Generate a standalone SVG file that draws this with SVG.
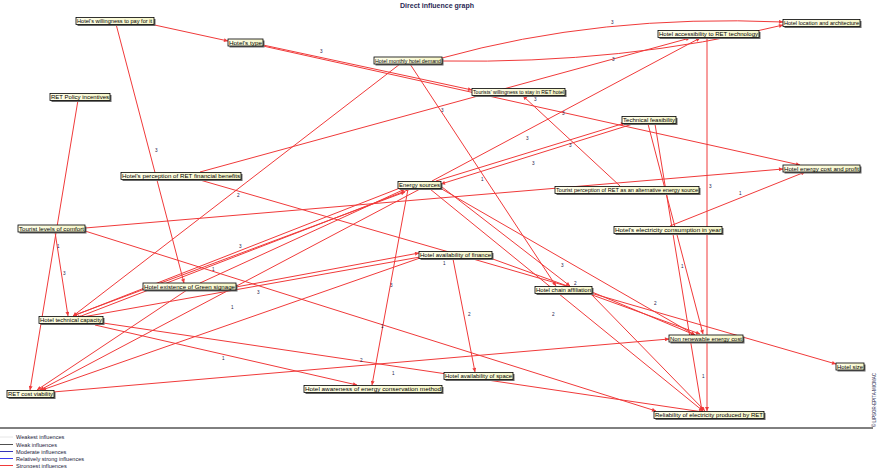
<svg xmlns="http://www.w3.org/2000/svg" width="877" height="468" viewBox="0 0 877 468">
<style>
.bg{fill:#ffffff}
.sh{fill:#6a6a6a}
.bx{fill:url(#gy);stroke:#000;stroke-width:0.8}
.nt{font-family:"Liberation Sans",Arial,sans-serif;font-size:5.8px;fill:#000}
.ed{fill:none;stroke:#f03a3a;stroke-width:1}
.lb{font-family:"Liberation Sans",Arial,sans-serif;font-size:4.6px;fill:#22224a}
.tt{font-family:"Liberation Sans",Arial,sans-serif;font-size:7px;font-weight:bold;fill:#2a2a55}
.lg{font-family:"Liberation Sans",Arial,sans-serif;font-size:5.6px;fill:#1a1a3a}
</style>
<defs>
<linearGradient id="gy" x1="0" y1="0" x2="1" y2="0">
<stop offset="0" stop-color="#ffffea"/>
<stop offset="1" stop-color="#f6f6c8"/>
</linearGradient>
<marker id="ar" viewBox="0 0 10 10" refX="10" refY="5" markerWidth="5" markerHeight="4" markerUnits="userSpaceOnUse" orient="auto">
<path d="M0,0 L10,5 L0,10 z" fill="#f03a3a"/>
</marker>
</defs>
<rect class="bg" x="0" y="0" width="877" height="468"/>
<text class="tt" x="437" y="8" text-anchor="middle">Direct influence graph</text>

<g id="connectors">
<line class="ed" x1="150" y1="24" x2="228" y2="41" marker-end="url(#ar)"/>
<line class="ed" x1="116" y1="24" x2="184" y2="283" marker-end="url(#ar)"/>
<line class="ed" x1="263" y1="45" x2="472" y2="90" marker-end="url(#ar)"/>
<line class="ed" x1="263" y1="46" x2="800" y2="165" marker-end="url(#ar)"/>
<path class="ed" d="M442,58 Q600,14 783,22" marker-end="url(#ar)"/>
<path class="ed" d="M442,61 Q625,64 783,25" marker-end="url(#ar)"/>
<line class="ed" x1="400" y1="64" x2="73" y2="316" marker-end="url(#ar)"/>
<line class="ed" x1="410" y1="64" x2="556" y2="286" marker-end="url(#ar)"/>
<line class="ed" x1="432" y1="181" x2="700" y2="38" marker-end="url(#ar)"/>
<line class="ed" x1="436" y1="181" x2="625" y2="123" marker-end="url(#ar)"/>
<line class="ed" x1="636" y1="123" x2="441" y2="184" marker-end="url(#ar)"/>
<line class="ed" x1="85" y1="228" x2="783" y2="169" marker-end="url(#ar)"/>
<line class="ed" x1="85" y1="231" x2="656" y2="411" marker-end="url(#ar)"/>
<line class="ed" x1="55" y1="232" x2="68" y2="316" marker-end="url(#ar)"/>
<line class="ed" x1="78" y1="100" x2="30" y2="390" marker-end="url(#ar)"/>
<line class="ed" x1="200" y1="172" x2="690" y2="38" marker-end="url(#ar)"/>
<line class="ed" x1="200" y1="180" x2="836" y2="364" marker-end="url(#ar)"/>
<line class="ed" x1="620" y1="186" x2="523" y2="96" marker-end="url(#ar)"/>
<line class="ed" x1="670" y1="226" x2="805" y2="172" marker-end="url(#ar)"/>
<line class="ed" x1="648" y1="124" x2="703" y2="334" marker-end="url(#ar)"/>
<line class="ed" x1="655" y1="124" x2="702" y2="411" marker-end="url(#ar)"/>
<line class="ed" x1="707" y1="38" x2="707" y2="411" marker-end="url(#ar)"/>
<line class="ed" x1="400" y1="188" x2="73" y2="316" marker-end="url(#ar)"/>
<line class="ed" x1="413" y1="188" x2="76" y2="318" marker-end="url(#ar)"/>
<line class="ed" x1="420" y1="189" x2="40" y2="390" marker-end="url(#ar)"/>
<line class="ed" x1="408" y1="189" x2="372" y2="385" marker-end="url(#ar)"/>
<line class="ed" x1="440" y1="188" x2="695" y2="335" marker-end="url(#ar)"/>
<line class="ed" x1="430" y1="189" x2="703" y2="411" marker-end="url(#ar)"/>
<line class="ed" x1="442" y1="187" x2="570" y2="286" marker-end="url(#ar)"/>
<line class="ed" x1="490" y1="258" x2="700" y2="334" marker-end="url(#ar)"/>
<line class="ed" x1="592" y1="292" x2="695" y2="335" marker-end="url(#ar)"/>
<line class="ed" x1="590" y1="293" x2="705" y2="411" marker-end="url(#ar)"/>
<line class="ed" x1="420" y1="257" x2="77" y2="318" marker-end="url(#ar)"/>
<line class="ed" x1="453" y1="259" x2="475" y2="372" marker-end="url(#ar)"/>
<line class="ed" x1="103" y1="323" x2="703" y2="412" marker-end="url(#ar)"/>
<line class="ed" x1="95" y1="325" x2="357" y2="385" marker-end="url(#ar)"/>
<line class="ed" x1="53" y1="392" x2="669" y2="339" marker-end="url(#ar)"/>
<line class="ed" x1="187" y1="290" x2="37" y2="390" marker-end="url(#ar)"/>
<line class="ed" x1="236" y1="287" x2="419" y2="253" marker-end="url(#ar)"/>
<line class="ed" x1="200" y1="283" x2="405" y2="189" marker-end="url(#ar)"/>
<line class="ed" x1="75" y1="315" x2="405" y2="192" marker-end="url(#ar)"/>
<line class="ed" x1="420" y1="258" x2="42" y2="390" marker-end="url(#ar)"/>
</g>

<g id="edge-labels">
<text class="lb" x="155" y="152">3</text>
<text class="lb" x="320" y="53">3</text>
<text class="lb" x="441" y="112">3</text>
<text class="lb" x="534" y="101">3</text>
<text class="lb" x="562" y="115">3</text>
<text class="lb" x="611" y="24">3</text>
<text class="lb" x="612" y="61">3</text>
<text class="lb" x="526" y="140">3</text>
<text class="lb" x="569" y="147">3</text>
<text class="lb" x="532" y="165">3</text>
<text class="lb" x="481" y="181">1</text>
<text class="lb" x="709" y="188">3</text>
<text class="lb" x="739" y="195">1</text>
<text class="lb" x="237" y="197">2</text>
<text class="lb" x="57" y="248">1</text>
<text class="lb" x="63" y="275">3</text>
<text class="lb" x="212" y="271">1</text>
<text class="lb" x="239" y="248">3</text>
<text class="lb" x="257" y="294">3</text>
<text class="lb" x="231" y="309">1</text>
<text class="lb" x="443" y="265">1</text>
<text class="lb" x="390" y="287">3</text>
<text class="lb" x="468" y="316">2</text>
<text class="lb" x="552" y="316">2</text>
<text class="lb" x="561" y="267">3</text>
<text class="lb" x="381" y="328">1</text>
<text class="lb" x="681" y="268">1</text>
<text class="lb" x="654" y="305">2</text>
<text class="lb" x="222" y="360">1</text>
<text class="lb" x="392" y="375">1</text>
<text class="lb" x="360" y="362">2</text>
<text class="lb" x="574" y="285">2</text>
<text class="lb" x="702" y="378">1</text>
</g>

<g id="n1"><rect class="sh" x="77.5" y="19" width="78" height="7"/><rect class="bx" x="76" y="17.5" width="78" height="7"/><text class="nt" x="77" y="23.2" textLength="75" lengthAdjust="spacingAndGlyphs">Hotel's willingness to pay for it</text></g>
<g id="n2"><rect class="sh" x="229.5" y="40.5" width="35" height="7"/><rect class="bx" x="228" y="39" width="35" height="7"/><text class="nt" x="229" y="44.7" textLength="33" lengthAdjust="spacingAndGlyphs">Hotel's type</text></g>
<g id="n3"><rect class="sh" x="375.5" y="58.5" width="68" height="7"/><rect class="bx" x="374" y="57" width="68" height="7"/><text class="nt" x="375" y="62.7" textLength="66" lengthAdjust="spacingAndGlyphs">Hotel monthly hotel demand</text></g>
<g id="n4"><rect class="sh" x="473.5" y="90" width="93" height="7"/><rect class="bx" x="472" y="88.5" width="93" height="7"/><text class="nt" x="473" y="94.2" textLength="91" lengthAdjust="spacingAndGlyphs">Tourists' willingness to stay in RET hotel</text></g>
<g id="n5"><rect class="sh" x="784.5" y="21" width="77" height="7"/><rect class="bx" x="783" y="19.5" width="77" height="7"/><text class="nt" x="784" y="25.2" textLength="75" lengthAdjust="spacingAndGlyphs">Hotel location and architecture</text></g>
<g id="n6"><rect class="sh" x="659.5" y="32" width="101" height="7"/><rect class="bx" x="658" y="30.5" width="101" height="7"/><text class="nt" x="659" y="36.2" textLength="99" lengthAdjust="spacingAndGlyphs">Hotel accessibility to RET technology</text></g>
<g id="n7"><rect class="sh" x="51.5" y="95" width="60" height="7"/><rect class="bx" x="50" y="93.5" width="60" height="7"/><text class="nt" x="51" y="99.2" textLength="58" lengthAdjust="spacingAndGlyphs">RET Policy incentives</text></g>
<g id="n8"><rect class="sh" x="623.5" y="118" width="54" height="7"/><rect class="bx" x="622" y="116.5" width="54" height="7"/><text class="nt" x="623" y="122.2" textLength="52" lengthAdjust="spacingAndGlyphs">Technical feasibility</text></g>
<g id="n9"><rect class="sh" x="122.5" y="174" width="120" height="7"/><rect class="bx" x="121" y="172.5" width="120" height="7"/><text class="nt" x="122" y="178.2" textLength="118" lengthAdjust="spacingAndGlyphs">Hotel's perception of RET financial benefits</text></g>
<g id="n10"><rect class="sh" x="399.5" y="183" width="43" height="7"/><rect class="bx" x="398" y="181.5" width="43" height="7"/><text class="nt" x="399" y="187.2" textLength="41" lengthAdjust="spacingAndGlyphs">Energy sources</text></g>
<g id="n11"><rect class="sh" x="556.5" y="188" width="144" height="7"/><rect class="bx" x="555" y="186.5" width="144" height="7"/><text class="nt" x="556" y="192.2" textLength="142" lengthAdjust="spacingAndGlyphs">Tourist perception of RET as an alternative energy source</text></g>
<g id="n12"><rect class="sh" x="784.5" y="166.5" width="77" height="7"/><rect class="bx" x="783" y="165" width="77" height="7"/><text class="nt" x="784" y="170.7" textLength="75" lengthAdjust="spacingAndGlyphs">Hotel energy cost and profit</text></g>
<g id="n13"><rect class="sh" x="615.5" y="228" width="108" height="7"/><rect class="bx" x="614" y="226.5" width="108" height="7"/><text class="nt" x="615" y="232.2" textLength="106" lengthAdjust="spacingAndGlyphs">Hotel's electricity consumption in year</text></g>
<g id="n14"><rect class="sh" x="19.5" y="226.5" width="67" height="7"/><rect class="bx" x="18" y="225" width="67" height="7"/><text class="nt" x="19" y="230.7" textLength="65" lengthAdjust="spacingAndGlyphs">Tourist levels of comfort</text></g>
<g id="n15"><rect class="sh" x="420.5" y="253" width="73" height="7"/><rect class="bx" x="419" y="251.5" width="73" height="7"/><text class="nt" x="420" y="257.2" textLength="71" lengthAdjust="spacingAndGlyphs">Hotel availability of finance</text></g>
<g id="n16"><rect class="sh" x="536.5" y="288" width="57" height="7"/><rect class="bx" x="535" y="286.5" width="57" height="7"/><text class="nt" x="536" y="292.2" textLength="55" lengthAdjust="spacingAndGlyphs">Hotel chain affiliation</text></g>
<g id="n17"><rect class="sh" x="144.5" y="284.5" width="93" height="7"/><rect class="bx" x="143" y="283" width="93" height="7"/><text class="nt" x="144" y="288.7" textLength="91" lengthAdjust="spacingAndGlyphs">Hotel existence of Green signage</text></g>
<g id="n18"><rect class="sh" x="40.5" y="318" width="64" height="7"/><rect class="bx" x="39" y="316.5" width="64" height="7"/><text class="nt" x="40" y="322.2" textLength="62" lengthAdjust="spacingAndGlyphs">Hotel technical capacity</text></g>
<g id="n19"><rect class="sh" x="670.5" y="336.5" width="74" height="7"/><rect class="bx" x="669" y="335" width="74" height="7"/><text class="nt" x="670" y="340.7" textLength="72" lengthAdjust="spacingAndGlyphs">Non renewable energy cost</text></g>
<g id="n20"><rect class="sh" x="837.5" y="364.5" width="28" height="7"/><rect class="bx" x="836" y="363" width="28" height="7"/><text class="nt" x="837" y="368.7" textLength="26" lengthAdjust="spacingAndGlyphs">Hotel size</text></g>
<g id="n21"><rect class="sh" x="445.5" y="374" width="69" height="7"/><rect class="bx" x="444" y="372.5" width="69" height="7"/><text class="nt" x="445" y="378.2" textLength="67" lengthAdjust="spacingAndGlyphs">Hotel availability of space</text></g>
<g id="n22"><rect class="sh" x="305.5" y="387" width="138" height="7"/><rect class="bx" x="304" y="385.5" width="138" height="7"/><text class="nt" x="305" y="391.2" textLength="136" lengthAdjust="spacingAndGlyphs">Hotel awareness of energy conservation method</text></g>
<g id="n23"><rect class="sh" x="8.5" y="392" width="47" height="7"/><rect class="bx" x="7" y="390.5" width="47" height="7"/><text class="nt" x="8" y="396.2" textLength="45" lengthAdjust="spacingAndGlyphs">RET cost viability</text></g>
<g id="n24"><rect class="sh" x="655.5" y="413" width="110" height="7"/><rect class="bx" x="654" y="411.5" width="110" height="7"/><text class="nt" x="655" y="417.2" textLength="108" lengthAdjust="spacingAndGlyphs">Reliability of electricity produced by RET</text></g>

<g id="legend">
<line x1="0" y1="428" x2="873" y2="428" stroke="#000" stroke-width="1"/>
<line x1="0" y1="437" x2="13" y2="437" stroke="#e6e6e6" stroke-width="1"/>
<text class="lg" x="16" y="439">Weakest influences</text>
<line x1="0" y1="444.5" x2="13" y2="444.5" stroke="#505050" stroke-width="1"/>
<text class="lg" x="16" y="446.5">Weak influences</text>
<line x1="0" y1="451.5" x2="13" y2="451.5" stroke="#3434b8" stroke-width="1"/>
<text class="lg" x="16" y="453.5">Moderate influences</text>
<line x1="0" y1="458.5" x2="13" y2="458.5" stroke="#3c3cf0" stroke-width="1"/>
<text class="lg" x="16" y="460.5">Relatively strong influences</text>
<line x1="0" y1="465.5" x2="13" y2="465.5" stroke="#f03a3a" stroke-width="1"/>
<text class="lg" x="16" y="467.5">Strongest influences</text>
<text class="lb" x="0" y="0" transform="translate(876,427) rotate(-90)" fill="#8a8aa8" textLength="54" lengthAdjust="spacingAndGlyphs">© LIPSOR-EPITA-MICMAC</text>
</g>
</svg>
